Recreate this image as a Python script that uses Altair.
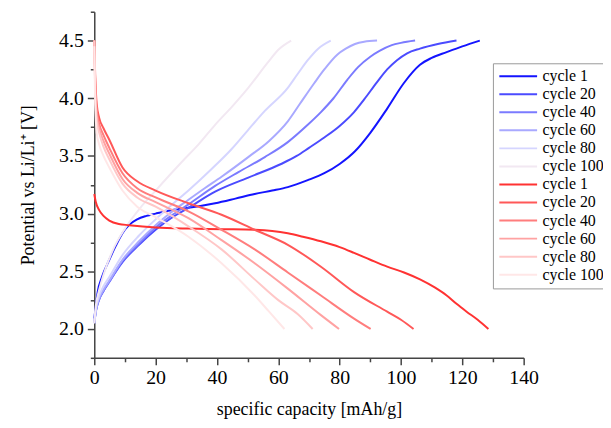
import altair as alt
import pandas as pd

# ---- charge curves (blue) ----
c1_x = [0, 0.5, 1.1, 2.5, 4.9, 7, 9.2, 11.3, 14, 17, 20, 25, 30.7, 39.4, 46, 52.3, 58, 63.1, 69.6, 75, 80, 85, 90, 95.5, 100.9, 106.2, 110, 114.9, 120, 125.7]
c1_v = [2.09, 2.2, 2.32, 2.45, 2.6, 2.72, 2.83, 2.9, 2.95, 2.98, 3.0, 3.03, 3.05, 3.09, 3.13, 3.17, 3.2, 3.23, 3.29, 3.35, 3.43, 3.54, 3.7, 3.91, 4.13, 4.29, 4.35, 4.4, 4.45, 4.5]

c20_x = [0, 0.5, 1.5, 3, 4.9, 9.2, 14.6, 20, 25, 30.7, 39.4, 50, 60.9, 66, 70, 75, 80, 84.7, 88, 92.2, 95.5, 98.7, 102, 106.2, 112, 118.1]
c20_v = [2.05, 2.15, 2.25, 2.33, 2.41, 2.58, 2.73, 2.86, 2.96, 3.05, 3.19, 3.31, 3.43, 3.5, 3.57, 3.66, 3.76, 3.88, 3.99, 4.14, 4.25, 4.33, 4.39, 4.43, 4.47, 4.5]

c40_x = [0, 0.5, 1.5, 3, 4.9, 9.2, 14.6, 20, 25, 30.7, 39.4, 47, 55.6, 63.1, 69.6, 73.9, 78, 82.5, 86, 90, 93, 97, 100, 104.6]
c40_v = [2.05, 2.15, 2.25, 2.33, 2.41, 2.59, 2.74, 2.88, 2.98, 3.08, 3.24, 3.36, 3.49, 3.62, 3.77, 3.88, 4.0, 4.16, 4.27, 4.36, 4.41, 4.46, 4.48, 4.5]

c60_x = [0, 0.5, 1.5, 3, 4.9, 9.2, 14.6, 20, 25, 30.7, 36, 41.5, 50.2, 57, 63.1, 67, 71.7, 75, 79.3, 82, 85, 88, 92.2]
c60_v = [2.05, 2.16, 2.26, 2.34, 2.42, 2.6, 2.76, 2.9, 3.01, 3.12, 3.22, 3.32, 3.49, 3.63, 3.8, 3.95, 4.13, 4.25, 4.38, 4.43, 4.47, 4.49, 4.5]

c80_x = [0, 0.5, 1.5, 3, 4.9, 9.2, 14.6, 20, 25, 30.7, 38, 44.8, 50, 55.6, 63.1, 66.3, 69.6, 73, 77.1]
c80_v = [2.05, 2.17, 2.28, 2.37, 2.45, 2.64, 2.81, 2.95, 3.07, 3.2, 3.38, 3.56, 3.72, 3.89, 4.09, 4.21, 4.33, 4.43, 4.5]

c100_x = [0, 0.5, 1.5, 3, 6, 10, 15, 20, 28.6, 34, 39.4, 45, 50.2, 56.6, 60, 64.2]
c100_v = [2.05, 2.2, 2.33, 2.47, 2.68, 2.87, 3.05, 3.2, 3.45, 3.6, 3.77, 3.93, 4.09, 4.31, 4.42, 4.5]

# ---- discharge curves (red) ----
d1_x = [0, 0.5, 1.6, 3, 4.9, 8, 11.3, 20, 30.7, 42, 52.3, 58, 63.1, 68, 73.9, 80, 84.7, 90, 95.5, 101, 106.2, 111, 114.9, 118, 121.4, 125, 128.5]
d1_v = [3.17, 3.1, 3.03, 2.98, 2.94, 2.91, 2.9, 2.88, 2.87, 2.865, 2.86, 2.85, 2.83, 2.8, 2.76, 2.71, 2.66, 2.6, 2.54, 2.49, 2.43, 2.36, 2.29, 2.22, 2.15, 2.08, 2.0]

d20_x = [0, 0.3, 0.8, 1.6, 3, 4.9, 9.2, 14, 20, 30.7, 41.5, 52.3, 63.1, 73.9, 84.7, 95.5, 100, 104.1]
d20_v = [4.5, 4.2, 3.95, 3.83, 3.74, 3.64, 3.4, 3.28, 3.2, 3.09, 2.99, 2.86, 2.73, 2.54, 2.32, 2.15, 2.08, 2.0]

d40_x = [0, 0.3, 0.8, 1.6, 3, 4.9, 9.2, 14, 20, 30.7, 41.5, 52.3, 63.1, 73.9, 84.7, 90.1]
d40_v = [4.5, 4.15, 3.9, 3.78, 3.68, 3.57, 3.35, 3.22, 3.14, 3.02, 2.86, 2.69, 2.49, 2.29, 2.09, 2.0]

d60_x = [0, 0.3, 0.8, 1.6, 3, 4.9, 9.2, 14, 20, 30.7, 41.5, 52.3, 63.1, 73.9, 79.8]
d60_v = [4.5, 4.1, 3.85, 3.74, 3.63, 3.52, 3.3, 3.18, 3.1, 2.96, 2.77, 2.57, 2.35, 2.12, 2.0]

d80_x = [0, 0.3, 0.8, 1.6, 3, 4.9, 9.2, 14, 20, 30.7, 41.5, 52.3, 60, 66.3, 71.2]
d80_v = [4.5, 4.05, 3.8, 3.7, 3.58, 3.47, 3.26, 3.14, 3.06, 2.89, 2.69, 2.43, 2.25, 2.13, 2.0]

d100_x = [0, 0.3, 0.8, 1.6, 3, 4.9, 9.2, 14, 20, 30.7, 41.5, 52.3, 57, 62]
d100_v = [4.45, 3.95, 3.7, 3.6, 3.5, 3.4, 3.2, 3.06, 2.97, 2.8, 2.57, 2.29, 2.15, 2.0]

series = [
    ("cycle 1|c", c1_x, c1_v, "#1414ff"),
    ("cycle 20|c", c20_x, c20_v, "#4b4bff"),
    ("cycle 40|c", c40_x, c40_v, "#7b7bff"),
    ("cycle 60|c", c60_x, c60_v, "#a9a9ff"),
    ("cycle 80|c", c80_x, c80_v, "#d5d5ff"),
    ("cycle 100|c", c100_x, c100_v, "#f2e8f2"),
    ("cycle 1|d", d1_x, d1_v, "#ff3232"),
    ("cycle 20|d", d20_x, d20_v, "#ff5858"),
    ("cycle 40|d", d40_x, d40_v, "#ff7d7d"),
    ("cycle 60|d", d60_x, d60_v, "#ffa2a2"),
    ("cycle 80|d", d80_x, d80_v, "#ffc7c7"),
    ("cycle 100|d", d100_x, d100_v, "#ffe7e7"),
]

x_major = [0, 20, 40, 60, 80, 100, 120, 140]
x_minor = [10, 30, 50, 70, 90, 110, 130]
y_major = [2.0, 2.5, 3.0, 3.5, 4.0, 4.5]
y_minor = [1.75, 2.25, 2.75, 3.25, 3.75, 4.25, 4.75]

rows = []
for i, (key, xs, vs, _) in enumerate(series):
    for j, (xv, vv) in enumerate(zip(xs, vs)):
        rows.append({"series": key, "order": i, "idx": j, "cap": xv, "pot": vv})
df = pd.DataFrame(rows)

keys = [s[0] for s in series]
colors = [s[3] for s in series]

FONT = "Liberation Serif"
xscale = alt.Scale(domain=[0, 140], nice=False, zero=False)
yscale = alt.Scale(domain=[1.75, 4.75], nice=False, zero=False)

main = alt.Chart(df).mark_line(strokeWidth=2, interpolate="monotone").encode(
    x=alt.X("cap:Q", scale=xscale,
            axis=alt.Axis(orient="bottom", values=x_major, title="specific capacity [mAh/g]",
                          tickSize=7, labelPadding=3, titlePadding=13, format="d",
                          labelFlush=False, labelOverlap=False)),
    y=alt.Y("pot:Q", scale=yscale,
            axis=alt.Axis(orient="left", values=y_major, title="Potential vs Li/Li⁺ [V]",
                          tickSize=7, labelPadding=4, titlePadding=21, format=".1f",
                          labelFlush=False, labelOverlap=False)),
    color=alt.Color("series:N", scale=alt.Scale(domain=keys, range=colors),
                    legend=alt.Legend(title=None, orient="none", legendX=402, legendY=52,
                                      symbolType="stroke", symbolSize=1450, symbolStrokeWidth=2,
                                      labelExpr="split(datum.label, '|')[0]",
                                      labelFont=FONT, labelFontSize=16, labelColor="black",
                                      labelLimit=200,
                                      strokeColor="#999999", fillColor="white", padding=5,
                                      clipHeight=16, rowPadding=2.2, labelOffset=4,
                                      symbolOffset=0)),
    detail="series:N",
    order="idx:Q",
)

minor = alt.Chart(df).mark_line(opacity=0).encode(
    x=alt.X("cap:Q", scale=xscale,
            axis=alt.Axis(orient="bottom", values=x_minor, title=None, labels=False,
                          domain=False, tickSize=4)),
    y=alt.Y("pot:Q", scale=yscale,
            axis=alt.Axis(orient="left", values=y_minor, title=None, labels=False,
                          domain=False, tickSize=4)),
    detail="series:N",
)

chart = alt.layer(main, minor).resolve_axis(x="independent", y="independent").properties(
    width=433, height=349,
    autosize=alt.AutoSizeParams(type="none"),
    padding={"left": 87, "top": 2, "right": 80, "bottom": 68},
).configure_axis(
    grid=False, domainColor="#444444", tickColor="#444444", domainWidth=1.5, tickWidth=1.5,
    labelFont=FONT, labelFontSize=20, labelColor="black",
    titleFont=FONT, titleFontSize=18, titleFontWeight="normal", titleColor="black",
).configure_view(stroke=None)

chart.save("out.html", embed_options={"renderer": "svg", "actions": False})
